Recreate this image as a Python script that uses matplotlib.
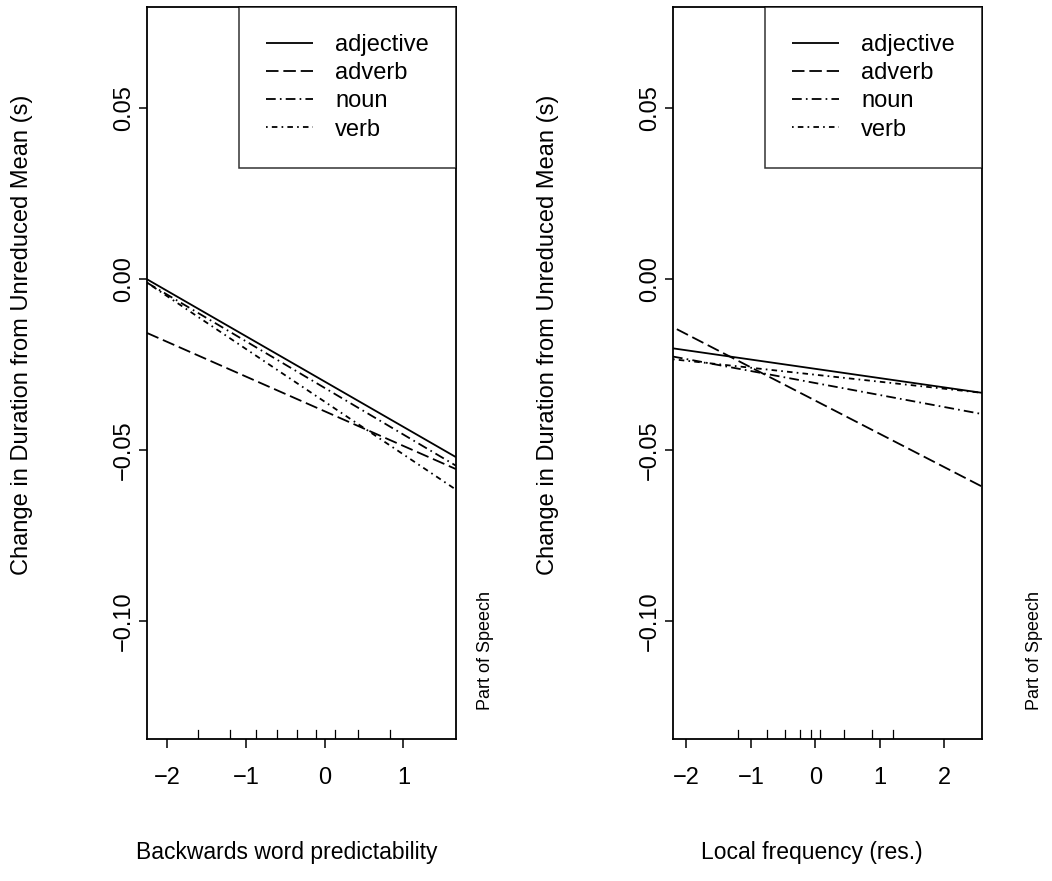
import matplotlib
matplotlib.use('Agg')
import matplotlib.pyplot as plt

plt.rcParams['font.family'] = ['Liberation Sans', 'DejaVu Sans']
plt.rcParams['lines.scale_dashes'] = False

# Part of speech categories and line styles
categories = ['adjective', 'adverb', 'noun', 'verb']
line_styles = {
    'adjective': '-',
    'adverb': (0, (9, 3.5)),
    'noun': (0, (7, 3, 1.2, 3)),
    'verb': (0, (1.2, 3, 4, 3)),
}

# Panel 1: Backwards word predictability
p1_xrange = [-2.258, 1.668]
p1_start = [0.000, -0.0157, -0.001, -0.001]
p1_end = [-0.052, -0.0555, -0.0545, -0.0615]
p1_rug = [-1.614, -1.20, -0.877, -0.61, -0.352, -0.11, 0.13, 0.42, 0.83]
p1_xticks = [-2, -1, 0, 1]

# Panel 2: Local frequency (res.)
p2_xrange = [-2.21, 2.585]
p2_xstart = [-2.21, -2.15, -2.21, -2.21]
p2_start = [-0.0202, -0.0146, -0.0226, -0.0234]
p2_end = [-0.0332, -0.0606, -0.0394, -0.0332]
p2_rug = [-1.206, -0.758, -0.464, -0.237, -0.072, 0.077, 0.448, 0.881, 1.20]
p2_xticks = [-2, -1, 0, 1, 2]

yticks = [0.05, 0.00, -0.05, -0.10]
ytick_labels = ['0.05', '0.00', '\u22120.05', '\u22120.10']
ylim = (-0.1344, 0.0796)

FS = 17
YLAB = 'Change in Duration from Unreduced Mean (s)'


def draw_panel(fig, rect, xrange, xstarts, starts, ends, rug, xticks):
    ax = fig.add_axes(rect)
    for cat, xs, y0, y1 in zip(categories, xstarts, starts, ends):
        ax.plot([xs, xrange[1]], [y0, y1], color='black', linewidth=1.3,
                linestyle=line_styles[cat], label=cat, solid_capstyle='butt',
                dash_capstyle='butt')
    # rug of x values
    for r in rug:
        ax.plot([r, r], [ylim[0], ylim[0] + 0.0027], color='black', linewidth=0.9)
    ax.set_xlim(xrange)
    ax.set_ylim(ylim)
    ax.set_xticks(xticks)
    ax.set_xticklabels([str(t).replace('-', '\u2212') for t in xticks], fontsize=FS)
    ax.set_yticks(yticks)
    ax.set_yticklabels(ytick_labels, fontsize=FS, rotation=90, va='center')
    ax.tick_params(axis='x', length=6.5, width=1.1, pad=14)
    ax.tick_params(axis='y', length=5.5, width=1.1, pad=3)
    for s in ax.spines.values():
        s.set_linewidth(1.3)
    leg = ax.legend(loc='upper right', bbox_to_anchor=(1.0, 1.0), borderaxespad=0,
                    fontsize=FS, frameon=True, fancybox=False, handlelength=2.0,
                    handletextpad=0.92, borderpad=1.15, labelspacing=0.26)
    leg.get_frame().set_edgecolor('black')
    leg.get_frame().set_linewidth(1.1)
    return ax


fig = plt.figure(figsize=(10.52, 8.81), dpi=100)

ax1 = draw_panel(fig, [0.1397, 0.1612, 0.2937, 0.8309], p1_xrange,
                 [p1_xrange[0]] * 4, p1_start, p1_end, p1_rug, p1_xticks)
ax2 = draw_panel(fig, [0.6397, 0.1612, 0.2937, 0.8309], p2_xrange,
                 p2_xstart, p2_start, p2_end, p2_rug, p2_xticks)

# axis titles placed in figure coordinates
fig.text(22 / 1052, 1 - 335 / 881, YLAB, rotation=90, fontsize=FS, ha='center', va='center')
fig.text(548 / 1052, 1 - 335 / 881, YLAB, rotation=90, fontsize=FS, ha='center', va='center')
fig.text(287 / 1052, 1 - 853 / 881, 'Backwards word predictability', fontsize=16.5,
         ha='center', va='center')
fig.text(812 / 1052, 1 - 853 / 881, 'Local frequency (res.)', fontsize=16.5,
         ha='center', va='center')

fig.text(0.4613, 0.262, 'Part of Speech', rotation=90, fontsize=13, ha='center', va='center')
fig.text(0.9838, 0.262, 'Part of Speech', rotation=90, fontsize=13, ha='center', va='center')

fig.savefig('out.png', dpi=100)
